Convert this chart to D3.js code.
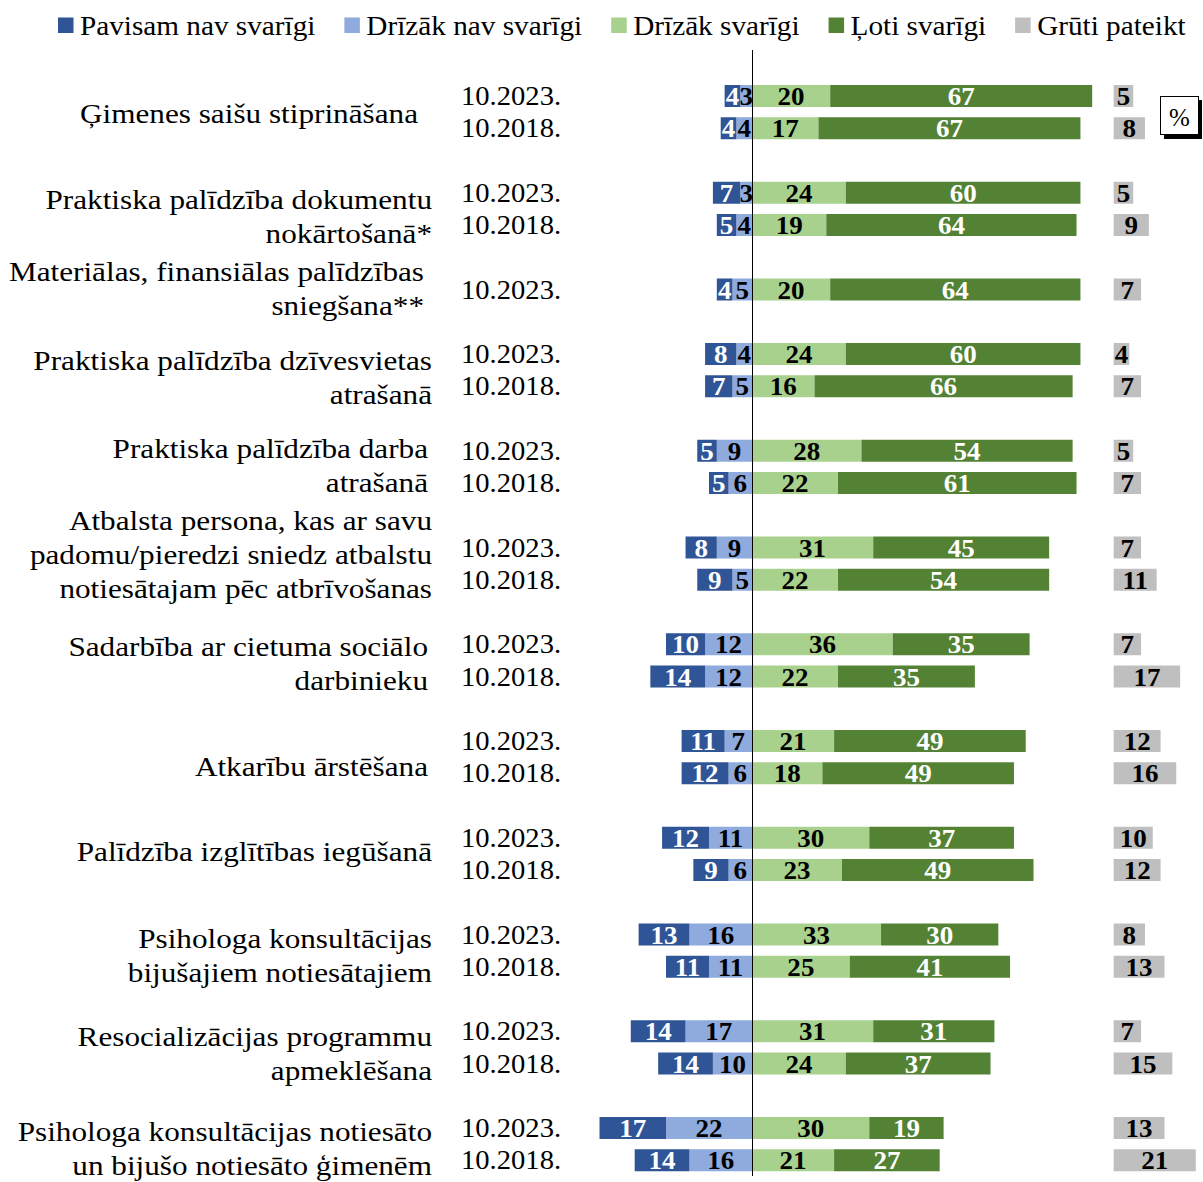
<!DOCTYPE html>
<html><head><meta charset="utf-8">
<script src="https://cdn.jsdelivr.net/npm/d3@7"></script>
<style>body{margin:0;background:#fff}svg{display:block}</style>
</head><body>
<svg id="c" width="1203" height="1182"></svg>
<script>
const seriesNames = ["Pavisam nav svarīgi","Drīzāk nav svarīgi","Drīzāk svarīgi","Ļoti svarīgi","Grūti pateikt"];
const colors = ["#2F5597","#8FAADC","#A9D18E","#548235","#BFBFBF"];
const textColors = ["#fff","#000","#000","#fff","#000"];
const periods = ["10.2023.","10.2018."];
const categories = [
  ["Ģimenes saišu stiprināšana"],
  ["Praktiska palīdzība dokumentu","nokārtošanā*"],
  ["Materiālas, finansiālas palīdzības","sniegšana**"],
  ["Praktiska palīdzība dzīvesvietas","atrašanā"],
  ["Praktiska palīdzība darba","atrašanā"],
  ["Atbalsta persona, kas ar savu","padomu/pieredzi sniedz atbalstu","notiesātajam pēc atbrīvošanas"],
  ["Sadarbība ar cietuma sociālo","darbinieku"],
  ["Atkarību ārstēšana"],
  ["Palīdzība izglītības iegūšanā"],
  ["Psihologa konsultācijas","bijušajiem notiesātajiem"],
  ["Resocializācijas programmu","apmeklēšana"],
  ["Psihologa konsultācijas notiesāto","un bijušo notiesāto ģimenēm"]
];
// [Pavisam nav, Drīzāk nav, Drīzāk svarīgi, Ļoti svarīgi, Grūti pateikt]
const values2023 = [
  [4,3,20,67,5],[7,3,24,60,5],[4,5,20,64,7],[8,4,24,60,4],[5,9,28,54,5],[8,9,31,45,7],
  [10,12,36,35,7],[11,7,21,49,12],[12,11,30,37,10],[13,16,33,30,8],[14,17,31,31,7],[17,22,30,19,13]
];
const values2018 = [
  [4,4,17,67,8],[5,4,19,64,9],null,[7,5,16,66,7],[5,6,22,61,7],[9,5,22,54,11],
  [14,12,22,35,17],[12,6,18,49,16],[9,6,23,49,12],[11,11,25,41,13],[14,10,24,37,15],[14,16,21,27,21]
];

// layout (text-box nudges of the category labels, as in the original)
const labelRight = [418,432,424,432,428,432,428,428,432,432,432,432];
const labelDy = [1,7.5,-0.5,7,-1,-9.5,3,9,-2,4.5,6.5,4.5];

const svg = d3.select("#c");
const FONT = "'Liberation Serif', 'DejaVu Serif', serif";

function stext(sel, x, y, sx) {
  return sel.attr("transform", `translate(${x},${y}) scale(${sx},1)`);
}

const rows = [], groups = [];
let slot = 0;
categories.forEach((cat, i) => {
  const gs = [];
  [values2023[i], values2018[i]].forEach((v, p) => {
    if (v) { rows.push({cat:i, period:periods[p], v, slot}); gs.push(slot); slot++; }
  });
  groups.push({lines:cat, slots:gs, i});
  slot++; // gap
});
const nSlots = slot - 1;

const step = 32.25, y0 = 96;
const y = d3.scaleBand().domain(d3.range(nSlots)).range([y0 - step/2, y0 - step/2 + nSlots*step]).padding(0);
const barH = 22;
const x = d3.scaleLinear().domain([0, 100]).range([752, 752 + 391]);
const greyStart = 92.5;

const g = svg.append("g");
rows.forEach(r => {
  const cy = y(r.slot) + y.bandwidth()/2;
  const segs = [
    {s:1, a:-r.v[1], b:0},
    {s:0, a:-r.v[1]-r.v[0], b:-r.v[1]},
    {s:2, a:0, b:r.v[2]},
    {s:3, a:r.v[2], b:r.v[2]+r.v[3]},
    {s:4, a:greyStart, b:greyStart + r.v[4]}
  ];
  segs.forEach(sg => {
    const x1 = x(sg.a), x2 = x(sg.b);
    g.append("rect").attr("x", x1).attr("y", cy - barH/2).attr("width", x2 - x1).attr("height", barH)
      .attr("fill", colors[sg.s]);
    stext(g.append("text"), (x1+x2)/2, cy + 1, 1.06).attr("text-anchor","middle")
      .attr("dominant-baseline","central").attr("font-family", FONT).attr("font-weight","bold")
      .attr("font-size", 25.5).attr("fill", textColors[sg.s]).text(r.v[sg.s]);
  });
  stext(g.append("text"), 461, cy, 1.06).attr("dominant-baseline","central")
    .attr("font-family", FONT).attr("font-size", 27).attr("fill","#000").text(r.period);
});

groups.forEach(gr => {
  const c = d3.mean(gr.slots, s => y(s) + y.bandwidth()/2) + labelDy[gr.i];
  const n = gr.lines.length, lh = 34;
  gr.lines.forEach((ln, k) => {
    stext(g.append("text"), labelRight[gr.i], c + (k - (n-1)/2)*lh, 1.115).attr("text-anchor","end")
      .attr("dominant-baseline","central").attr("font-family", FONT).attr("font-size", 28)
      .attr("fill","#000").text(ln);
  });
});

// axis line
svg.append("line").attr("x1", x(0) + 0.5).attr("x2", x(0) + 0.5).attr("y1", 50).attr("y2", 1176)
  .attr("stroke","#000").attr("stroke-width",1);

// legend
const lg = svg.append("g");
let lx = 58;
const lsx = 1.083;
seriesNames.forEach((nm, i) => {
  lg.append("rect").attr("x", lx).attr("y", 17.5).attr("width", 15.5).attr("height", 15.5).attr("fill", colors[i]);
  const t = stext(lg.append("text"), lx + 22, 26, lsx).attr("dominant-baseline","central")
    .attr("font-family", FONT).attr("font-size", 27).attr("fill","#000").text(nm);
  lx = lx + 22 + t.node().getComputedTextLength()*lsx + 29;
});

// % box
svg.append("rect").attr("x", 1164).attr("y", 100).attr("width", 38).attr("height", 39).attr("fill","#000");
svg.append("rect").attr("x", 1160.5).attr("y", 96.5).attr("width", 38).attr("height", 38).attr("fill","#fff")
  .attr("stroke","#000").attr("stroke-width",1);
svg.append("text").attr("x", 1179.5).attr("y", 117).attr("text-anchor","middle").attr("dominant-baseline","central")
  .attr("font-family", FONT).attr("font-size", 25).text("%");
</script>
</body></html>
